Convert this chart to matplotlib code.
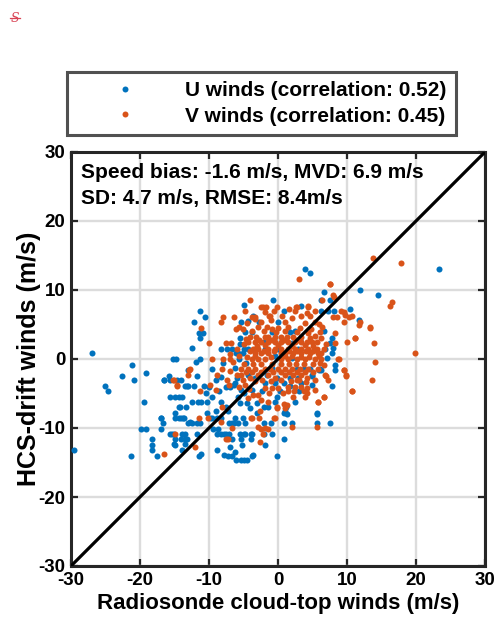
import matplotlib
matplotlib.use("Agg")
import matplotlib.pyplot as plt
from matplotlib.lines import Line2D
import numpy as np

plt.rcParams['font.family'] = ['Liberation Sans', 'DejaVu Sans']
plt.rcParams['font.weight'] = 'bold'
plt.rcParams['axes.unicode_minus'] = False

# ---------------- data ----------------
u_points = [
    (-26.9, 0.8), (-29.6, -13.2), (-21.1, -0.8), (-22.6, -2.4), (-20.9, -3.1), (-19.2, -2.0),
    (-25.1, -3.9), (-24.7, -4.7), (-19.4, -6.2), (-19.8, -10.1), (-19.1, -10.1), (-21.3, -14.0),
    (-17.0, -8.6), (-16.6, -9.3), (-17.0, -10.1), (-18.2, -11.6), (-18.2, -12.4), (-18.2, -13.2),
    (-17.5, -14.0), (-15.8, -2.4), (-16.5, -3.1), (-15.7, -5.5), (-14.9, -5.5), (-14.3, -5.5),
    (-15.2, 0.0), (-14.8, 0.0), (-15.4, -10.9), (-14.9, -11.6), (-14.9, -12.4), (-14.1, -11.6),
    (-14.9, -7.8), (-14.9, -8.6), (-14.3, -8.6), (-13.7, -8.6), (-14.3, -7.0), (-13.9, -13.2),
    (-13.5, -10.9), (-13.5, -11.6), (-12.5, 1.6), (-11.9, -0.4), (-11.3, 0.0), (-13.1, -1.6),
    (-11.8, -2.4), (-13.5, -3.9), (-13.1, -3.9), (-12.2, -3.9), (-11.6, -6.2), (-11.2, -6.2),
    (-10.3, -6.2), (-13.1, -9.3), (-12.4, -9.3), (-11.8, -9.3), (-11.3, -9.3), (-11.8, -10.9),
    (-11.4, -14.0), (-10.3, -7.8), (-9.6, -8.6), (-8.9, -8.6), (-8.2, -8.6), (-9.4, -10.1),
    (-8.7, -10.1), (-8.3, -10.9), (-7.6, -10.9), (-8.8, -13.2), (-7.2, -14.0), (-6.6, -14.0),
    (-6.1, -14.7), (-5.3, -14.7), (-4.9, -14.7), (-5.5, -10.9), (-5.0, -10.9), (-5.3, -11.6),
    (-5.2, -12.4), (-3.7, -14.0), (-3.9, -10.9), (-3.9, -11.6), (-6.6, -9.3), (-5.8, -9.3),
    (-5.1, -8.6), (-0.1, -14.0), (-2.1, -9.3), (-1.0, -9.3),
    (-11.3, 7.0), (-10.6, 6.1), (-12.2, 5.4), (-11.4, 3.8), (-10.9, 3.8), (-11.3, 3.0),
    (-8.3, 1.5), (-7.4, 1.5), (-6.7, 1.5), (-5.0, 7.8), (-0.7, 8.5), (-2.8, 5.4), (-4.4, 5.5),
    (0.0, 5.4), (-5.5, 2.2), (-6.1, 0.8), (-5.1, 0.8),
    (23.3, 13.1), (3.9, 13.1), (4.6, 12.4), (11.9, 10.0), (14.5, 9.3), (6.7, 9.7), (6.2, 8.5),
    (7.5, 8.6), (3.4, 7.7), (10.5, 7.3), (11.8, 5.7), (0.8, 7.0), (6.3, 7.0), (7.2, 6.9),
    (8.1, 6.9), (-3.6, 6.2), (-5.3, 5.4), (-0.9, 3.9), (1.7, 3.9), (2.5, 4.0), (6.6, 4.0),
    (-5.5, 3.1), (-4.8, 3.9), (-3.8, 3.9), (-2.0, 2.4), (2.0, 2.3), (3.2, 2.8), (-5.0, 1.5),
    (-4.3, 1.5), (-5.8, 0.8), (-1.9, 1.5), (0.0, 1.5), (2.9, 1.4), (6.8, 1.4), (-5.7, 0.0),
    (-0.4, 0.4), (2.0, 0.1), (7.1, 0.1), (7.8, 3.0), (8.0, 1.6), (7.8, 0.9), (7.6, 2.3),
    (0.9, -11.6), (-0.9, -10.9), (0.8, -9.3), (2.1, -9.3), (5.7, -9.3), (7.6, -9.3), (5.7, -7.8),
    (0.9, -7.8), (1.2, -7.0), (7.8, -3.9), (8.2, -0.8), (8.3, -1.6), (6.0, -1.6), (6.2, -1.6),
    (4.9, -2.4), (1.7, -3.9), (-0.2, -5.5),
    (-6.2, -1.3), (-0.9, -1.3), (2.7, -1.4), (3.7, -1.5), (4.6, -1.5), (6.1, -1.5), (-6.0, -2.8),
    (-4.3, -2.3), (-3.3, -2.8), (-1.6, -2.3), (-0.2, -2.8), (1.7, -2.8), (2.9, -2.8), (4.9, -2.3),
    (-6.2, -3.5), (-5.3, -4.5), (-3.8, -4.5), (-1.9, -3.5), (-0.4, -3.5), (0.8, -3.5), (3.4, -3.5),
    (4.9, -3.8), (-5.5, -6.4), (-4.5, -6.4), (-4.1, -7.1), (-3.1, -6.4), (-2.1, -6.9), (-1.4, -6.9),
    (-0.4, -6.2), (1.0, -7.6), (1.3, -7.9), (5.6, -7.9), (-6.2, -8.6), (-4.8, -9.3), (-4.8, -10.8),
    (-3.8, -10.8), (-2.1, -10.9), (-1.9, -12.5), (-3.6, -13.9), (-4.5, -14.7), (-6.2, -13.5),
    (-16.5, -3.0), (-15.7, -3.0), (-14.6, -3.0), (-14.1, -3.0), (-13.2, -3.9), (-13.9, -5.5),
    (-12.4, -6.2), (-14.2, -7.0), (-13.4, -7.0), (-14.1, -8.5), (-13.6, -8.5), (-12.7, -9.2),
    (-16.9, -8.5), (-15.7, -10.9), (-15.1, -10.9), (-15.1, -12.3), (-13.9, -10.9), (-13.2, -11.6),
    (-13.5, -12.3), (-11.2, -13.8), (-9.8, -8.6), (-7.1, -9.3), (-6.4, -9.3), (-9.5, -5.5),
    (-8.3, -6.2), (-7.6, -6.9), (-9.0, -7.6), (-7.3, -7.6), (-9.5, -1.4), (-8.3, -2.6),
    (-7.6, -4.1), (-6.9, -4.1), (-6.4, -3.8), (-10.0, -4.1), (-10.7, -3.9), (-8.8, -10.8),
    (-7.8, -10.8), (-7.1, -10.8), (-6.6, -11.6), (-6.9, -12.7), (-7.8, -13.9),
    (-9.0, -3.1), (-8.6, -4.7), (-10.5, -5.0), (-5.8, -5.5), (-4.9, -5.0), (-3.0, -7.8),
    (-2.3, -4.6), (0.3, -4.7), (2.4, -6.3), (3.0, -4.6), (-8.0, -0.6), (-4.6, -0.6),
]

v_points = [
    (-16.5, -13.7), (-15.2, -3.1), (-14.7, -3.9), (-14.9, -10.9), (-12.9, -1.6), (-11.3, -4.7),
    (-12.1, -12.8), (-10.2, -8.6), (-7.5, -11.6), (-3.9, -8.6), (-2.2, -10.9), (-2.4, -10.1),
    (-1.4, -10.1), (-2.8, -8.6), (-11.2, 4.5), (-10.0, 2.3), (-8.3, 5.3), (-8.0, 6.1), (-6.4, 6.1),
    (-4.1, 8.5), (-2.4, 7.6), (-1.3, 6.2), (-3.8, 6.1), (-3.4, 6.1), (-6.1, 4.4), (-5.1, 4.4),
    (-7.6, 2.3), (-6.8, 2.3), (-6.9, 0.7), (-9.6, 0.0), (-7.9, 0.0), (-7.0, 0.0),
    (13.8, 14.7), (17.8, 13.9), (3.0, 11.6), (7.6, 10.8), (16.5, 8.2), (16.3, 7.7), (8.1, 9.0),
    (2.6, 7.6), (4.4, 7.7), (9.2, 6.9), (9.7, 6.4), (10.3, 6.1), (13.3, 4.5), (11.8, 4.9),
    (19.9, 0.8), (13.9, 2.3), (11.1, 3.1), (10.0, 2.4),
    (2.1, -9.9), (5.7, -9.9), (-0.6, -8.6), (-0.1, -7.0), (0.8, -6.5), (5.8, -6.2), (6.6, -5.5),
    (10.7, -4.7), (13.6, -3.1), (9.6, -1.6), (9.9, -2.4), (14.1, -0.4), (8.7, 0.0), (6.7, -0.8),
    (6.9, -2.4), (7.3, -3.1), (2.3, -4.7), (2.2, -5.5), (1.4, -4.7), (3.1, -3.1), (3.7, -4.7),
    (4.2, -5.0),
    (-2.2, 7.6), (-1.7, 7.6), (2.7, 7.6), (4.3, 7.6), (6.4, 8.5), (-4.8, 6.9), (-1.9, 6.8),
    (-1.2, 6.2), (-0.2, 7.6), (2.5, 6.9), (3.3, 6.3), (4.2, 6.7), (4.7, 6.2), (-3.3, 5.8),
    (-2.4, 5.3), (1.0, 5.4), (1.5, 4.7), (-5.7, 4.7), (-2.9, 4.7), (-1.6, 4.7), (-0.9, 4.3),
    (0.0, 4.5), (3.2, 4.5), (3.9, 5.2), (5.4, 5.4), (6.4, 4.7),
    (-4.1, 3.2), (-3.2, 3.2), (-1.9, 3.2), (-1.4, 3.2), (-0.5, 3.2), (0.5, 3.2), (1.3, 3.2),
    (2.2, 3.2), (3.4, 3.2), (4.3, 3.7), (5.4, 3.3), (6.1, 3.9),
    (-4.3, 2.4), (-3.3, 2.4), (-2.4, 2.4), (-1.4, 2.4), (-0.4, 2.4), (0.5, 2.4), (1.5, 2.4),
    (2.5, 2.4), (3.4, 2.4), (4.2, 2.4), (4.9, 2.4), (5.6, 2.4),
    (-3.6, 1.5), (-2.9, 1.5), (-1.4, 1.5), (-0.4, 1.5), (0.5, 1.5), (1.5, 1.5), (2.5, 1.5),
    (3.4, 1.5), (4.4, 1.5), (5.6, 1.5), (6.6, 1.5),
    (-3.3, 0.8), (-2.4, 0.8), (-1.4, 0.8), (1.0, 0.8), (2.2, 0.8), (3.4, 0.8), (4.6, 0.8), (5.8, 0.8),
    (-3.8, 0.0), (-2.9, 0.0), (-1.9, 0.0), (0.5, 0.0), (1.5, 0.0), (2.7, 0.0), (3.9, 0.0),
    (5.4, 0.0), (6.3, 0.0),
    (-5.3, -1.4), (-4.3, -1.4), (-3.3, -1.4), (-1.9, -1.4), (-1.2, -1.4), (0.0, -1.4), (1.0, -1.4),
    (2.0, -1.4), (3.2, -1.4), (4.4, -1.4), (5.8, -1.4),
    (-6.0, -2.3), (-5.3, -2.3), (-4.1, -2.8), (-2.9, -2.3), (-1.4, -2.3), (-0.4, -2.8), (1.0, -2.3),
    (2.2, -2.3), (3.4, -2.3), (4.2, -2.8), (6.8, -2.3),
    (-5.7, -4.0), (-4.8, -3.7), (-3.6, -5.2), (-2.9, -5.2), (-1.9, -4.2), (-0.9, -4.2), (0.0, -4.2),
    (1.5, -4.0), (2.5, -4.0), (3.4, -4.0), (4.2, -4.2), (5.4, -4.5),
    (-4.3, -5.7), (-2.4, -5.9), (-1.4, -6.2), (-0.2, -7.1), (1.0, -7.1), (1.3, -6.7), (3.9, -5.5),
    (6.6, -5.5), (5.8, -6.2), (-3.8, -8.5), (-2.6, -7.6), (-0.5, -8.5), (-2.9, -9.9), (-1.9, -10.0),
    (-2.6, -12.1),
    (-12.8, -1.4), (-13.0, -2.3), (-15.1, -3.0), (-14.6, -3.8), (-11.4, -8.5), (-9.8, -3.8),
    (-9.0, -4.5), (-8.1, -6.9), (-8.2, -9.1), (-7.3, -11.6), (-6.6, -10.0), (-8.8, -2.3),
    (-8.1, -1.4), (-7.4, -3.0), (-6.9, -1.8), (-7.1, -3.8),
    (9.5, 6.8), (10.7, 6.2), (8.5, 6.1), (8.0, 6.1), (9.6, 5.3), (11.9, 5.3), (13.4, 4.6),
    (11.1, 3.0), (8.3, 3.8), (8.3, 2.3), (8.8, 0.0), (8.0, 9.3), (7.5, 10.8),
    (9.5, -1.6), (9.8, -2.3), (10.7, -4.6),
    # densely overlapping core of the V cloud
    (-3.7, 4.0), (-2.1, 4.0), (-0.3, 3.9), (1.0, 4.0), (2.8, 3.9), (4.8, 4.3), (5.9, 5.0),
    (-4.7, 2.9), (-2.8, 2.8), (-0.9, 2.8), (0.9, 2.8), (2.7, 2.8), (4.6, 3.0), (6.2, 3.0),
    (-3.1, 1.9), (-1.9, 2.0), (0.0, 2.0), (2.0, 1.9), (3.9, 2.0), (5.1, 1.9), (6.9, 2.2),
    (-4.0, 1.1), (-2.0, 1.2), (-0.6, 1.1), (0.5, 0.8), (1.6, 1.1), (2.8, 1.2), (4.0, 1.1),
    (5.1, 1.1), (6.3, 0.9), (-4.5, 0.3), (-3.4, 0.4), (-1.0, 0.3), (1.0, 0.4), (2.1, 0.4),
    (3.3, 0.3), (4.5, 0.3), (5.9, 0.4), (-4.9, -0.7), (-3.6, -0.7), (-2.4, -0.7), (-0.8, -0.7),
    (0.5, -0.7), (1.6, -0.7), (2.6, -0.7), (3.8, -0.7), (5.0, -0.7), (6.1, -0.6),
    (-4.7, -1.9), (-3.8, -1.9), (-2.4, -1.9), (-0.7, -1.9), (0.5, -1.9), (1.6, -1.9), (2.8, -1.9),
    (3.9, -1.9), (5.1, -1.9), (-5.1, -3.1), (-3.4, -3.2), (-2.3, -3.1), (-1.0, -3.2), (0.4, -3.1),
    (1.9, -3.2), (2.7, -3.1), (4.0, -3.4), (5.4, -3.1), (-4.2, -4.4), (-1.3, -4.9), (0.7, -5.0),
    (-6.5, -0.5), (-5.6, 0.4), (-6.0, 1.4), (-5.0, 2.2), (-4.5, 5.2), (-1.0, 5.6), (0.6, 6.3),
    (2.0, 5.9), (-0.6, 6.9), (1.6, 7.3), (5.3, 6.9),
]

u_x = [p[0] for p in u_points]
u_y = [p[1] for p in u_points]
v_x = [p[0] for p in v_points]
v_y = [p[1] for p in v_points]

u_label = 'U winds (correlation: 0.52)'
v_label = 'V winds (correlation: 0.45)'
stats_line1 = 'Speed bias: -1.6 m/s, MVD: 6.9 m/s'
stats_line2 = 'SD: 4.7 m/s, RMSE: 8.4m/s'
ticks = [-30, -20, -10, 0, 10, 20, 30]
x_label = 'Radiosonde cloud-top winds (m/s)'
y_label = 'HCS-drift winds (m/s)'

# ---------------- figure ----------------
W, H = 496, 626
fig = plt.figure(figsize=(W / 100, H / 100), dpi=100)
ax = fig.add_axes([71 / W, 1 - 566 / H, 414 / W, 414 / H])

blue = '#0072BD'
orange = '#D95319'
ax.scatter(u_x, u_y, s=19, color=blue, linewidths=0, zorder=3, label=u_label)
ax.scatter(v_x, v_y, s=19, color=orange, linewidths=0, zorder=3, label=v_label)
ax.plot([ticks[0], ticks[-1]], [ticks[0], ticks[-1]], color='black', lw=2.3, zorder=4)

ax.set_xlim(-30, 30)
ax.set_ylim(-30, 30)
ax.set_xticks(ticks)
ax.set_yticks(ticks)
ax.grid(True, color='#dcdcdc', lw=1.7, zorder=0)
ax.set_axisbelow(True)
ax.tick_params(direction='in', length=5, width=1.6, color='#262626',
               top=True, right=True, labelsize=13.5, pad=4)
for lab in ax.get_xticklabels() + ax.get_yticklabels():
    lab.set_fontweight('bold')
for sp in ax.spines.values():
    sp.set_linewidth(2.2)
    sp.set_color('#262626')

ax.set_xlabel(x_label, fontsize=16, fontweight='bold', labelpad=3)
ax.set_ylabel(y_label, fontsize=18, fontweight='bold')
ax.yaxis.set_label_coords((41 - 71) / 414, 0.5)

ax.text(0.025, 0.95, stats_line1, transform=ax.transAxes, fontsize=15,
        fontweight='bold', va='center', ha='left')
ax.text(0.025, 0.888, stats_line2, transform=ax.transAxes, fontsize=15,
        fontweight='bold', va='center', ha='left')

handles = [Line2D([], [], ls='none', marker='o', ms=4.3, color=blue, mew=0),
           Line2D([], [], ls='none', marker='o', ms=4.3, color=orange, mew=0)]
leg = fig.legend(handles, [u_label, v_label], loc='center',
                 bbox_to_anchor=((68 + 455) / 2 / W, 1 - (72 + 135) / 2 / H),
                 prop={'weight': 'bold', 'size': 15}, frameon=True, fancybox=False,
                 edgecolor='#262626', handlelength=4.6, handletextpad=0.6,
                 borderpad=0.45, labelspacing=0.3, borderaxespad=0)
leg.get_frame().set_linewidth(2.2)

# small red struck-through "S" mark in the top-left corner
fig.text(15 / W, 1 - 18 / H, 'S', color='#d94455', fontsize=9, family='DejaVu Serif',
         style='italic', ha='center', va='center', fontweight='normal')
fig.add_artist(Line2D([10 / W, 20 / W], [1 - 18 / H, 1 - 18 / H], color='#d94455', lw=0.9))

fig.savefig('out.png', dpi=100)
